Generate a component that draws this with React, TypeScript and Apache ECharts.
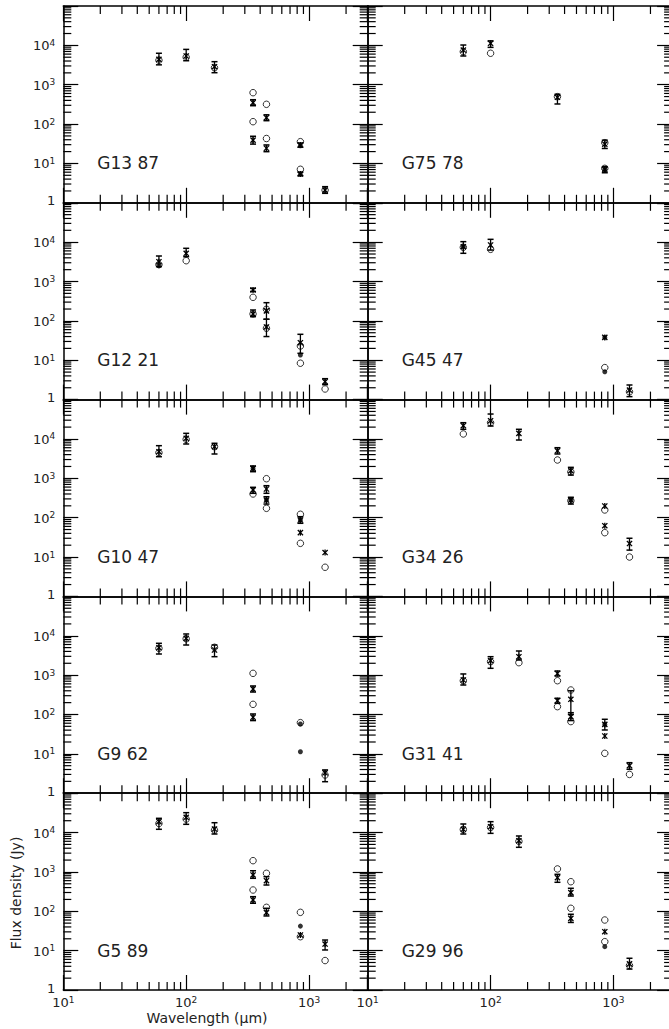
import React, { useEffect, useRef } from 'react';
import * as echarts from 'echarts';

// ---------- axis ranges & ticks ----------
const X_MIN = 10;
const X_MAX = 3000;
const Y_MIN = 1;
const Y_MAX = 100000;
const X_MINOR = [20, 30, 40, 50, 60, 70, 80, 90, 200, 300, 400, 500, 600, 700, 800, 900, 2000];
const Y_DECADES = [1, 10, 100, 1000, 10000];
const Y_MULT = [2, 3, 4, 5, 6, 7, 8, 9];

const PANEL_NAMES = ['G13 87', 'G75 78', 'G12 21', 'G45 47', 'G10 47', 'G34 26', 'G9 62', 'G31 41', 'G5 89', 'G29 96'];

// obs: [wavelength (um), flux (Jy), low, high]; star/circ/dot: [wavelength, flux]
const OBS_G13_87 = [[60, 4400, 3200, 6300], [100, 5370, 4070, 7900], [170, 2870, 2020, 3850], [350, 349, 293, 416], [350, 39, 31, 49], [450, 145, 122, 172], [450, 24.3, 19.9, 29.5], [850, 29.4, 26, 33], [850, 5.4, 4.9, 6], [1350, 2.1, 1.74, 2.57]];
const STAR_G13_87: number[][] = [];
const CIRC_G13_87 = [[60, 4200], [100, 5000], [170, 2700], [350, 627], [350, 115], [450, 318], [450, 43], [850, 35.7], [850, 7.1], [1350, 2.1]];
const DOT_G13_87 = [[850, 28], [850, 5.3]];

const OBS_G75_78 = [[60, 7600, 5370, 10200], [100, 11300, 8900, 13000], [350, 480, 324, 570], [850, 31, 24, 39], [850, 7.1, 5.8, 8.3]];
const STAR_G75_78: number[][] = [];
const CIRC_G75_78 = [[60, 6900], [100, 6300], [350, 497], [850, 33.6], [850, 7.5]];
const DOT_G75_78 = [[850, 7.0]];

const OBS_G12_21 = [[60, 3190, 2380, 4450], [100, 5210, 4270, 6980], [350, 610, 560, 670], [350, 150, 128, 189], [450, 180, 110, 290], [450, 70, 40, 110], [850, 27.9, 15, 45.6], [1350, 2.85, 2.4, 3.4]];
const STAR_G12_21: number[][] = [];
const CIRC_G12_21 = [[60, 2700], [100, 3380], [350, 397], [350, 150], [450, 197], [450, 65], [850, 23], [850, 8.4], [1350, 1.86]];
const DOT_G12_21 = [[60, 2520], [850, 13.6]];

const OBS_G45_47 = [[60, 7670, 5210, 10300], [100, 8470, 6300, 11800], [1350, 1.75, 1.19, 2.35]];
const STAR_G45_47 = [[850, 38]];
const CIRC_G45_47 = [[60, 7400], [100, 6580], [850, 6.5], [1350, 1.58]];
const DOT_G45_47 = [[60, 7670], [850, 38], [850, 5.1]];

const OBS_G10_47 = [[60, 4750, 3540, 6750], [100, 10400, 7450, 13900], [170, 6360, 4150, 7760], [350, 1795, 1473, 2055], [350, 505, 416, 591], [450, 535, 416, 650], [450, 281, 222, 341], [850, 87, 72, 106]];
const STAR_G10_47 = [[850, 41.6], [1350, 13]];
const CIRC_G10_47 = [[60, 4480], [100, 9800], [170, 6360], [350, 400], [450, 977], [450, 173], [850, 122], [850, 22.3], [1350, 5.5]];
const DOT_G10_47 = [[350, 1795], [450, 281], [850, 87]];

const OBS_G34_26 = [[60, 21700, 17600, 25900], [100, 29100, 21300, 43000], [170, 13900, 9400, 17600], [350, 5000, 4150, 6000], [450, 1560, 1210, 1900], [450, 281, 222, 330], [1350, 22, 15, 30]];
const STAR_G34_26 = [[850, 198], [850, 62.5]];
const CIRC_G34_26 = [[60, 13400], [100, 25900], [350, 2920], [450, 1450], [450, 270], [850, 157], [850, 41.6], [1350, 10]];
const DOT_G34_26 = [[450, 281]];

const OBS_G9_62 = [[60, 4970, 3440, 6430], [100, 8610, 5820, 11100], [170, 4350, 2940, 5820], [350, 444, 372, 530], [350, 85, 70, 103], [1350, 3.3, 1.96, 3.9]];
const STAR_G9_62: number[][] = [];
const CIRC_G9_62 = [[60, 4800], [100, 8400], [170, 5090], [350, 1110], [350, 181], [850, 62], [1350, 2.9]];
const DOT_G9_62 = [[850, 57.3], [850, 11.3]];

const OBS_G31_41 = [[60, 751, 561, 1070], [100, 2320, 1490, 2940], [170, 2940, 2420, 4100], [350, 1100, 950, 1270], [350, 224, 192, 258], [450, 243, 100, 400], [450, 88, 70, 111], [850, 56, 40.4, 75.5], [1350, 5.0, 4.05, 5.96]];
const STAR_G31_41 = [[850, 28.4]];
const CIRC_G31_41 = [[60, 720], [100, 2200], [170, 2070], [350, 721], [350, 158], [450, 419], [450, 66], [850, 10.3], [1350, 3.0]];
const DOT_G31_41 = [[850, 56]];

const OBS_G5_89 = [[60, 18900, 12100, 23000], [100, 24400, 16200, 32000], [170, 12300, 9190, 17800], [350, 836, 689, 1070], [350, 194, 160, 235], [450, 598, 465, 757], [450, 92, 76, 119], [1350, 14.7, 10.4, 18.6]];
const STAR_G5_89 = [[850, 25]];
const CIRC_G5_89 = [[60, 17000], [100, 22000], [170, 11500], [350, 1930], [350, 347], [450, 922], [450, 126], [850, 94], [850, 22.6], [1350, 5.6]];
const DOT_G5_89 = [[850, 42]];

const OBS_G29_96 = [[60, 12100, 9190, 16500], [100, 14100, 9550, 18900], [170, 6210, 4220, 8180], [350, 713, 545, 869], [450, 297, 244, 384], [450, 66, 52, 84], [1350, 4.6, 3.4, 6.4]];
const STAR_G29_96 = [[850, 30.3]];
const CIRC_G29_96 = [[60, 12000], [100, 13500], [170, 6000], [350, 1190], [450, 564], [450, 119], [850, 60], [850, 16.9], [1350, 4.2]];
const DOT_G29_96 = [[850, 12.6]];

const PANEL_OBS = [OBS_G13_87, OBS_G75_78, OBS_G12_21, OBS_G45_47, OBS_G10_47, OBS_G34_26, OBS_G9_62, OBS_G31_41, OBS_G5_89, OBS_G29_96];
const PANEL_STAR = [STAR_G13_87, STAR_G75_78, STAR_G12_21, STAR_G45_47, STAR_G10_47, STAR_G34_26, STAR_G9_62, STAR_G31_41, STAR_G5_89, STAR_G29_96];
const PANEL_CIRC = [CIRC_G13_87, CIRC_G75_78, CIRC_G12_21, CIRC_G45_47, CIRC_G10_47, CIRC_G34_26, CIRC_G9_62, CIRC_G31_41, CIRC_G5_89, CIRC_G29_96];
const PANEL_DOT = [DOT_G13_87, DOT_G75_78, DOT_G12_21, DOT_G45_47, DOT_G10_47, DOT_G34_26, DOT_G9_62, DOT_G31_41, DOT_G5_89, DOT_G29_96];

// ---------- layout / style ----------
const W = 669;
const H = 1029;
const LEFT0 = 63.3;
const COL_W = 304.4;
const TOP0 = 6;
const ROW_H = 196.8;
const FONT = 'DejaVu Sans';
const TXT = '#222';
const MAJOR_LEN = 15;
const MINOR_LEN = 8;

const RICH = {
  b: { fontSize: 13, fontFamily: FONT, color: TXT, verticalAlign: 'bottom', lineHeight: 14 },
  o: { fontSize: 13, fontFamily: FONT, color: TXT, verticalAlign: 'middle', lineHeight: 8, padding: [0, 0, 4, 0] },
  e: { fontSize: 9, fontFamily: FONT, color: TXT, verticalAlign: 'top', lineHeight: 9, padding: [0, 0, 8, 0] },
};

function powLabel(v: number, skipTop: boolean): string {
  const e = Math.round(Math.log10(v));
  if (Math.abs(v - Math.pow(10, e)) > 1e-6 * v) return '';
  if (skipTop && e === 5) return '';
  if (e === 0) return '{o|1}';
  return '{b|10}{e|' + e + '}';
}

function line(x1: number, y1: number, x2: number, y2: number, w = 1.2) {
  return { type: 'line', shape: { x1, y1, x2, y2 }, style: { stroke: '#000', lineWidth: w } };
}

function buildOption() {
  const grid: any[] = [];
  const xAxis: any[] = [];
  const yAxis: any[] = [];
  const series: any[] = [];
  const graphic: any[] = [];
  const axisLine = { show: true, onZero: false, lineStyle: { color: '#000', width: 1.5 } };
  const tick = { show: true, inside: true, length: MAJOR_LEN, lineStyle: { color: '#000', width: 1.2 } };

  const yMinor: number[] = [];
  Y_DECADES.forEach((d) => Y_MULT.forEach((m) => yMinor.push(d * m)));

  PANEL_NAMES.forEach((name, i) => {
    const row = Math.floor(i / 2);
    const col = i % 2;
    const left = LEFT0 + col * COL_W;
    const top = TOP0 + row * ROW_H;
    grid.push({ left, top, width: COL_W, height: ROW_H, containLabel: false, outerBoundsMode: 'none' });

    const xBase = { type: 'log', logBase: 10, min: X_MIN, max: X_MAX, gridIndex: i, axisLine, axisTick: tick, splitLine: { show: false } };
    xAxis.push({
      ...xBase, position: 'bottom',
      axisLabel: { show: row === 4, margin: 5, formatter: (v: number) => powLabel(v, false), rich: RICH, color: TXT, fontFamily: FONT, fontSize: 13 },
    });
    xAxis.push({ ...xBase, position: 'top', axisLabel: { show: false } });

    const yBase = { type: 'log', logBase: 10, min: Y_MIN, max: Y_MAX, gridIndex: i, axisLine, axisTick: tick, splitLine: { show: false } };
    yAxis.push({
      ...yBase, position: 'left',
      axisLabel: { show: col === 0, margin: 8, formatter: (v: number) => powLabel(v, true), rich: RICH, color: TXT, fontFamily: FONT, fontSize: 13 },
    });
    yAxis.push({ ...yBase, position: 'right', axisLabel: { show: false } });

    const ax = { xAxisIndex: 2 * i, yAxisIndex: 2 * i };

    // minor ticks on x (bottom & top)
    series.push({
      type: 'custom', ...ax, silent: true, encode: { x: 0, y: 1 },
      data: X_MINOR.map((v) => [v, Y_MIN]),
      renderItem: (params: any, api: any) => {
        const v = api.value(0);
        const b = api.coord([v, Y_MIN]);
        const t = api.coord([v, Y_MAX]);
        return { type: 'group', children: [line(b[0], b[1], b[0], b[1] - MINOR_LEN), line(t[0], t[1], t[0], t[1] + MINOR_LEN)] };
      },
    });
    // minor ticks on y (left & right)
    series.push({
      type: 'custom', ...ax, silent: true, encode: { x: 0, y: 1 },
      data: yMinor.map((v) => [X_MIN, v]),
      renderItem: (params: any, api: any) => {
        const v = api.value(1);
        const l = api.coord([X_MIN, v]);
        const r = api.coord([X_MAX, v]);
        return { type: 'group', children: [line(l[0], l[1], l[0] + MINOR_LEN, l[1]), line(r[0], r[1], r[0] - MINOR_LEN, r[1])] };
      },
    });
    // open circles
    series.push({
      type: 'scatter', ...ax, name: 'model', data: PANEL_CIRC[i], symbol: 'circle', symbolSize: 6.5,
      itemStyle: { color: 'rgba(255,255,255,0)', borderColor: '#000', borderWidth: 1 },
    });
    // filled dots
    series.push({
      type: 'scatter', ...ax, name: 'dot', data: PANEL_DOT[i], symbol: 'circle', symbolSize: 5,
      itemStyle: { color: '#000' },
    });
    // observations with error bars + asterisks without bars
    const obsData = PANEL_OBS[i].map((d) => [d[0], d[1], d[2], d[3], 1]).concat(PANEL_STAR[i].map((d) => [d[0], d[1], d[1], d[1], 0]));
    series.push({
      type: 'custom', ...ax, name: 'observed', encode: { x: 0, y: 1 },
      data: obsData,
      renderItem: (params: any, api: any) => {
        const x = api.value(0);
        const p = api.coord([x, api.value(1)]);
        const children: any[] = [];
        if (api.value(4) === 1) {
          const lo = api.coord([x, api.value(2)]);
          const hi = api.coord([x, api.value(3)]);
          children.push(line(p[0], lo[1], p[0], hi[1], 1.3));
          children.push(line(p[0] - 3, lo[1], p[0] + 3, lo[1], 1.5));
          children.push(line(p[0] - 3, hi[1], p[0] + 3, hi[1], 1.5));
        }
        const s = 2.6;
        children.push(line(p[0] - s, p[1] - s, p[0] + s, p[1] + s, 1.3));
        children.push(line(p[0] - s, p[1] + s, p[0] + s, p[1] - s, 1.3));
        children.push(line(p[0], p[1] - 3, p[0], p[1] + 3, 1.3));
        return { type: 'group', children };
      },
    });

    // panel label at the 10^1 level
    graphic.push({
      type: 'text', x: left + 34, y: top + ROW_H - ROW_H / 5,
      style: { text: name, fill: TXT, fontSize: 17, fontFamily: FONT, align: 'left', verticalAlign: 'middle' },
    });
  });

  graphic.push({
    type: 'text', x: 207, y: 1018,
    style: { text: 'Wavelength (\u03bcm)', fill: TXT, fontSize: 14, fontFamily: FONT, align: 'center', verticalAlign: 'middle' },
  });
  graphic.push({
    type: 'text', x: 16, y: 893, rotation: Math.PI / 2,
    style: { text: 'Flux density (Jy)', fill: TXT, fontSize: 14, fontFamily: FONT, align: 'center', verticalAlign: 'middle' },
  });

  return { animation: false, backgroundColor: '#fff', grid, xAxis, yAxis, series, graphic };
}

export default function App() {
  const ref = useRef<HTMLDivElement>(null);
  useEffect(() => {
    if (!ref.current) return;
    const chart = echarts.init(ref.current, null, { renderer: 'svg' });
    chart.setOption(buildOption() as any);
    return () => chart.dispose();
  }, []);
  return <div ref={ref} style={{ position: 'absolute', left: 0, top: 0, width: W, height: H, background: '#fff' }} />;
}
